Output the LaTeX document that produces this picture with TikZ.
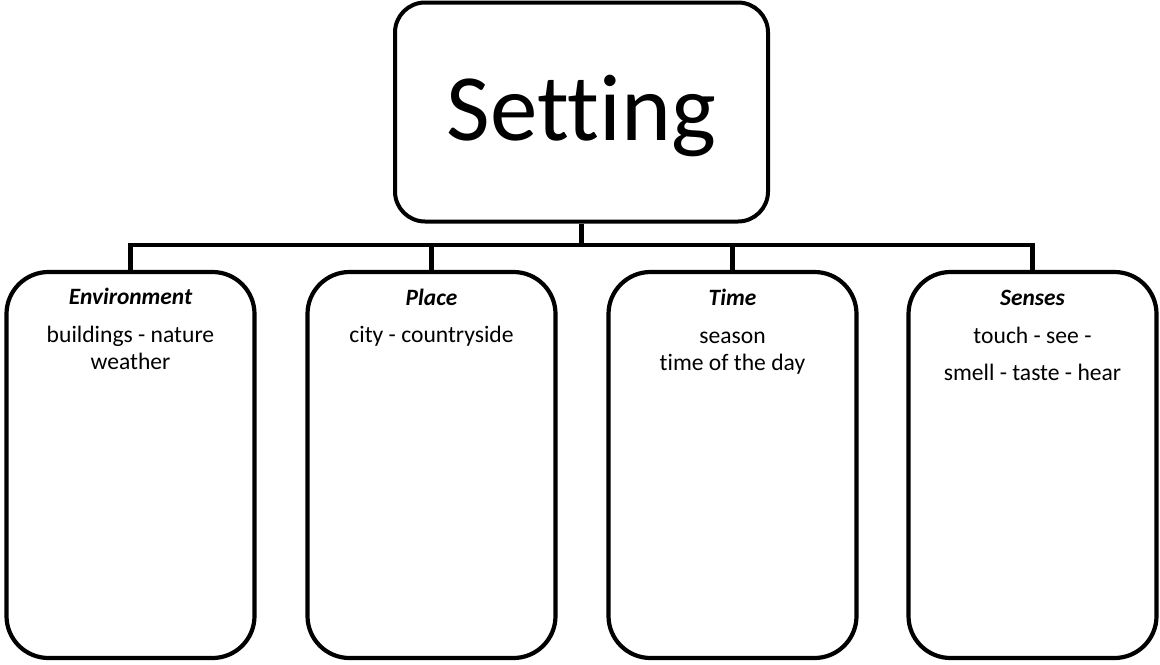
\documentclass[tikz,border=0pt]{standalone}
\usepackage{fontspec}
\setmainfont[Ligatures={NoCommon}]{Carlito}
\begin{document}
\begin{tikzpicture}[x=0.5pt,y=-0.5pt,
  topbox/.style={draw,line width=2pt,rounded corners=15pt,minimum width=186.5pt,minimum height=109.5pt,inner sep=0pt},
  subbox/.style={draw,line width=2.1pt,rounded corners=21pt,minimum width=124pt,minimum height=193pt,inner sep=0pt},
  link/.style={line width=2.1pt},
  head/.style={anchor=base,inner sep=0pt,font=\fontsize{11.7}{13.5}\selectfont\bfseries\itshape},
  body/.style={anchor=base,inner sep=0pt,font=\fontsize{11.8}{13.5}\selectfont}]
\useasboundingbox (0,0) rectangle (1160,664);
\node[topbox] (top) at (581.5,112) {};
\node[anchor=base,inner sep=0pt,font=\fontsize{47.5}{56}\selectfont] (settingtxt) at (581.5,140) {Setting};
\node[subbox] (b1) at (130.5,465) {};
\node[subbox] (b2) at (431.5,465) {};
\node[subbox] (b3) at (732.5,465) {};
\node[subbox] (b4) at (1032.5,465) {};
\coordinate (j) at (581.5,245);
\draw[link] (top.south) -- (j);
\draw[link] (b1.north) |- (j) -| (b4.north);
\draw[link] (b2.north) -- (b2.north |- j);
\draw[link] (b3.north) -- (b3.north |- j);
% texts
\node[head] (h1) at (130.5,304) {Environment};
\node[body] (t1a) at (130.5,342) {buildings - nature};
\node[body] (t1b) at (130.5,369) {weather};
\node[head] (h2) at (431.5,305) {Place};
\node[body] (t2a) at (431.5,342) {city - countryside};
\node[head] (h3) at (732.5,305) {Time};
\node[body] (t3a) at (732.5,343) {season};
\node[body] (t3b) at (732.5,370) {time of the day};
\node[head] (h4) at (1032.5,305) {Senses};
\node[body] (t4a) at (1032.5,343) {touch - see -};
\node[body] (t4b) at (1032.5,380) {smell - taste - hear};
\end{tikzpicture}
\end{document}
